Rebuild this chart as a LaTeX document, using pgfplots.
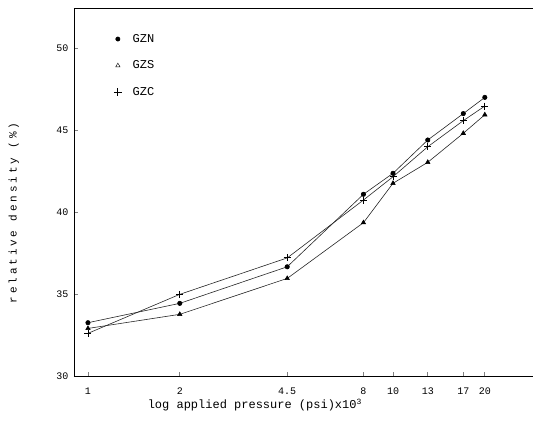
\documentclass[border=0pt]{standalone}
\usepackage{fontspec}
\setmainfont{Liberation Serif}
\setmonofont{Liberation Mono}
\newfontfamily\ylfont[LetterSpace=26]{Liberation Mono}
\usepackage{pgfplots}
\pgfplotsset{compat=1.18}
\begin{document}
\begin{tikzpicture}
\useasboundingbox (-74pt,-47pt) rectangle (459pt,376pt);
\begin{axis}[
  at={(0,0)}, anchor=south west,
  scale only axis, width=459pt, height=368pt,
  xmode=log, xmin=0.9, xmax=28.77, ymin=30, ymax=52.44,
  axis x line=box, axis y line=left,
  axis line style={line width=0.8pt, -},
  xtick pos=bottom, ytick pos=left,
  xtick={1,2,4.5,8,10,13,17,20},
  xticklabels={1,2,4.5,8,10,13,17,20},
  ytick={30,35,40,45,50},
  xminorticks=false, yminorticks=false,
  tick align=inside, major tick length=4pt,
  tick style={line width=0.8pt},
  /pgf/number format/assume math mode=true,
  tick label style={font=\ttfamily\fontsize{10}{12}\selectfont},
  xticklabel style={yshift=-8pt},
  yticklabel style={xshift=-2pt},
  xlabel={log applied pressure (psi)x10\textsuperscript{3}},
  xlabel style={at={(axis description cs:0.394,-0.079)}, anchor=center, font=\ttfamily\fontsize{12}{14}\selectfont},
  ylabel={\ylfont relative density  (\%)},
  ylabel style={at={(axis description cs:-0.131,0.443)}, anchor=center, font=\fontsize{11}{13}\selectfont},
  legend style={draw=none, fill=none, at={(axis description cs:0.07,0.94)}, anchor=north west,
    font=\ttfamily\fontsize{12}{14}\selectfont, row sep=13pt},
  legend image code/.code={\path[draw=none,fill=none] (0cm,0cm) -- (0.75cm,0cm); \draw[#1,only marks] plot coordinates {(0.3cm,0cm)};},
  legend cell align=left,
]
\addlegendimage{only marks, mark=*, mark size=2.2pt, black}
\addlegendentry{GZN}
\addlegendimage{only marks, mark=triangle, mark size=2.5pt, black}
\addlegendentry{GZS}
\addlegendimage{only marks, mark=+, mark size=4pt, black, thick}
\addlegendentry{GZC}

\addplot[forget plot, black!85, line width=0.6pt, mark=*, mark size=2.2pt, mark options={black}]
coordinates {(1,33.25) (2,34.43) (4.5,36.66) (8,41.08) (10,42.36) (13,44.39) (17,46.0) (20,46.99)};
\addplot[forget plot, black!85, line width=0.6pt, mark=triangle*, mark size=2.5pt, mark options={black}]
coordinates {(1,32.9) (2,33.76) (4.5,35.95) (8,39.35) (10,41.75) (13,43.03) (17,44.8) (20,45.93)};
\addplot[forget plot, black!85, line width=0.6pt, mark=+, mark size=3.5pt, mark options={black, line width=0.9pt}]
coordinates {(1,32.6) (2,34.98) (4.5,37.2) (8,40.73) (10,42.15) (13,43.98) (17,45.57) (20,46.46)};
\end{axis}
\end{tikzpicture}
\end{document}
